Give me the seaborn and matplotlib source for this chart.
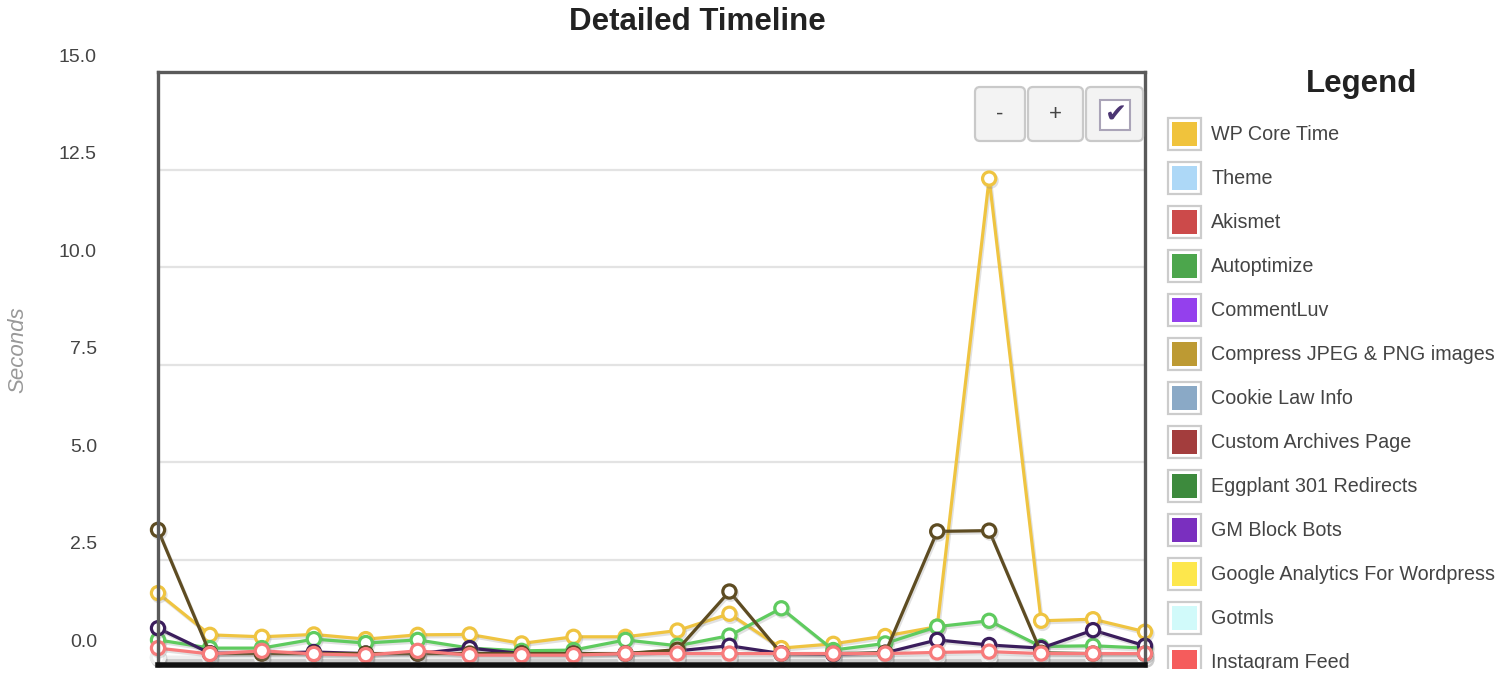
import matplotlib
matplotlib.use('Agg')
import matplotlib.pyplot as plt
import matplotlib.patheffects as pe
from matplotlib.patches import Rectangle, FancyBboxPatch
from matplotlib.transforms import ScaledTranslation
import seaborn as sns
import pandas as pd

# one point per run, left to right
runs = list(range(20))

wp_core = [1.65, 0.58, 0.53, 0.59, 0.47, 0.58, 0.59, 0.36, 0.53, 0.53,
           0.69, 1.12, 0.24, 0.35, 0.55, 0.79, 12.27, 0.94, 0.98, 0.66]
autoptimize = [0.45, 0.24, 0.24, 0.47, 0.37, 0.45, 0.24, 0.17, 0.19, 0.45,
               0.30, 0.56, 1.26, 0.19, 0.36, 0.79, 0.94, 0.28, 0.30, 0.24]
gm_block_bots = [0.75, 0.11, 0.11, 0.14, 0.10, 0.10, 0.24, 0.10, 0.10, 0.10,
                 0.17, 0.30, 0.10, 0.08, 0.12, 0.45, 0.32, 0.24, 0.70, 0.30]
other_plugin = [3.27, 0.10, 0.10, 0.10, 0.10, 0.10, 0.10, 0.10, 0.10, 0.10,
                0.20, 1.69, 0.10, 0.10, 0.12, 3.23, 3.25, 0.12, 0.10, 0.10]
instagram = [0.24, 0.09, 0.17, 0.09, 0.06, 0.17, 0.06, 0.06, 0.06, 0.10,
             0.10, 0.10, 0.10, 0.10, 0.10, 0.13, 0.15, 0.10, 0.10, 0.10]
theme = [0.0] * 20
gotmls = [0.0] * 20

legend_names = ['WP Core Time', 'Theme', 'Akismet', 'Autoptimize', 'CommentLuv',
                'Compress JPEG & PNG images', 'Cookie Law Info', 'Custom Archives Page',
                'Eggplant 301 Redirects', 'GM Block Bots', 'Google Analytics For Wordpress',
                'Gotmls', 'Instagram Feed']
legend_colors = ['#f0c33c', '#add8f7', '#cc4a4a', '#4ca64c', '#9440ed', '#bd9a33',
                 '#8aa9c6', '#a33d3d', '#3d8a3d', '#7a2fbf', '#fde74c', '#d1fafa', '#f55c5c']

y_ticks = [0.0, 2.5, 5.0, 7.5, 10.0, 12.5, 15.0]

series = [
    ('Theme', theme, '#e2e2e2'),
    ('Gotmls', gotmls, '#eeeeee'),
    ('WP Core Time', wp_core, '#efc441'),
    ('Autoptimize', autoptimize, '#5fcb5f'),
    ('GM Block Bots', gm_block_bots, '#3b1d5c'),
    ('Other', other_plugin, '#5e4c22'),
    ('Instagram Feed', instagram, '#f77b7b'),
]

sns.set_theme(style='white')
plt.rcParams['font.family'] = ['Liberation Sans', 'DejaVu Sans']

W, H = 1508, 686
fig = plt.figure(figsize=(W / 100, H / 100), dpi=100)
ax = fig.add_axes([158 / W, 1 - 664.5 / H, (1145 - 158) / W, (664.5 - 72) / H])

shadow = [pe.SimpleLineShadow(offset=(1, -1.5), shadow_color='#888888', alpha=0.25), pe.Normal()]
for name, vals, col in series:
    df = pd.DataFrame({'run': runs, 'seconds': vals})
    sns.lineplot(data=df, x='run', y='seconds', ax=ax, color=col, linewidth=2.3,
                 marker='o', markersize=9.5, markerfacecolor='white', markeredgecolor=col,
                 markeredgewidth=2.3, clip_on=False, path_effects=shadow)

ax.set_xlim(runs[0], runs[-1])
ax.set_ylim(-0.18, 15)
ax.set_xticks([])
ax.set_yticks(y_ticks)
ax.set_yticklabels([f'{t:.1f}' for t in y_ticks])
ax.tick_params(axis='y', length=0, pad=44, labelsize=14, labelcolor='#444444')
offset = ScaledTranslation(0, 0.17, fig.dpi_scale_trans)
for lab in ax.get_yticklabels():
    lab.set_transform(lab.get_transform() + offset)
ax.set_xlabel('')
ax.set_ylabel('')
ax.yaxis.grid(True, color='#e3e3e3', linewidth=1.6)
ax.set_axisbelow(True)
for side in ['left', 'top', 'right']:
    ax.spines[side].set_color('#5a5a5a')
    ax.spines[side].set_linewidth(2.4)
ax.spines['bottom'].set_color('#111111')
ax.spines['bottom'].set_linewidth(4)
ax.spines['bottom'].set_zorder(3)

fig.text(697 / W, 1 - 22 / H, 'Detailed Timeline', ha='center', va='center',
         fontsize=22.5, fontweight='bold', color='#222222')
fig.text(18 / W, 1 - 350 / H, 'Seconds', rotation=90, ha='center', va='center',
         fontsize=16, fontstyle='italic', color='#999999')

# zoom buttons in the top right corner of the plot
over = fig.add_axes([0, 0, 1, 1], zorder=5)
over.set_xlim(0, W)
over.set_ylim(H, 0)
over.axis('off')
for x0, x1, lbl in [(975, 1025, '-'), (1028, 1083, '+'), (1086, 1143, '')]:
    over.add_patch(FancyBboxPatch((x0, 87), x1 - x0, 54, boxstyle='round,pad=0,rounding_size=5',
                                  facecolor='#f3f3f3', edgecolor='#c9c9c9', linewidth=1.6))
    if lbl:
        over.text((x0 + x1) / 2, 114, lbl, ha='center', va='center', fontsize=16, color='#444444')
over.add_patch(Rectangle((1100, 100), 30, 30, facecolor='white', edgecolor='#aaa4b8', linewidth=1.5))
over.text(1116, 116, '\u2714', ha='center', va='center', fontsize=19, color='#4b3572',
          family='DejaVu Sans')

# legend panel, clipped at the bottom like the page
leg = fig.add_axes([1150 / W, 1 - 669 / H, (W - 1150) / W, (669 - 40) / H], zorder=5)
leg.set_xlim(1150, W)
leg.set_ylim(669, 40)
leg.axis('off')
leg.text(1362, 84, 'Legend', ha='center', va='center', fontsize=22.5, fontweight='bold',
         color='#222222')
for i, (name, col) in enumerate(zip(legend_names, legend_colors)):
    yc = 134 + 44 * i
    leg.add_patch(Rectangle((1168, yc - 16), 33, 32, facecolor='white', edgecolor='#cccccc',
                            linewidth=1.6, clip_on=True))
    leg.add_patch(Rectangle((1172, yc - 12), 25, 24, facecolor=col, edgecolor='none', clip_on=True))
    leg.text(1211, yc + 1, name, ha='left', va='center', fontsize=14.2, color='#444444', clip_on=True)

fig.savefig('out.png', dpi=100)
